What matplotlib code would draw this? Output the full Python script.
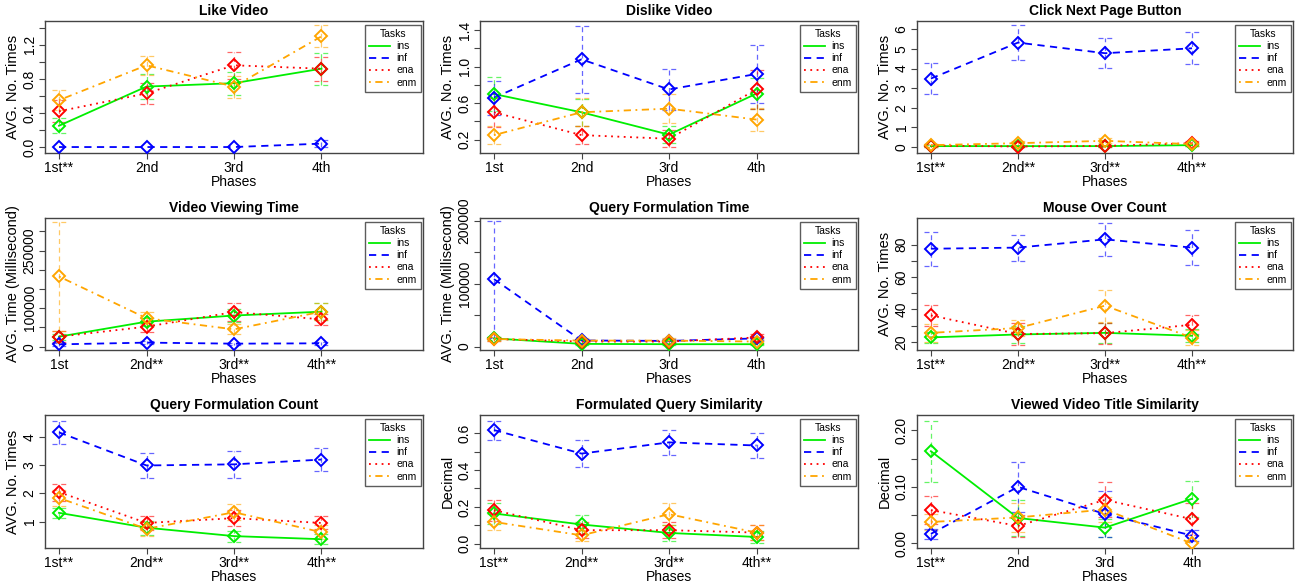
import matplotlib
matplotlib.use("Agg")
import matplotlib.pyplot as plt
import numpy as np

plt.rcParams['font.family'] = ['Liberation Sans', 'DejaVu Sans']

# ---------------- data ----------------
tasks = ["ins", "inf", "ena", "enm"]
task_colors = ["#00ee00", "#0000ff", "#ff0000", "#ffa500"]
task_styles = ["-", (0, (4, 3)), (0, (1, 2.5)), (0, (1, 2.5, 4, 2.5))]
phases = [1, 2, 3, 4]

titles = ["Like Video", "Dislike Video", "Click Next Page Button",
          "Video Viewing Time", "Query Formulation Time", "Mouse Over Count",
          "Query Formulation Count", "Formulated Query Similarity",
          "Viewed Video Title Similarity"]
ylabels = ["AVG. No. Times", "AVG. No. Times", "AVG. No. Times",
           "AVG. Time (Millisecond)", "AVG. Time (Millisecond)", "AVG. No. Times",
           "AVG. No. Times", "Decimal", "Decimal"]
xticklabels = [["1st**", "2nd", "3rd", "4th"],
               ["1st", "2nd", "3rd", "4th"],
               ["1st**", "2nd**", "3rd**", "4th**"],
               ["1st", "2nd**", "3rd**", "4th**"],
               ["1st", "2nd", "3rd", "4th"],
               ["1st**", "2nd**", "3rd**", "4th**"],
               ["1st**", "2nd**", "3rd**", "4th**"],
               ["1st**", "2nd**", "3rd**", "4th**"],
               ["1st**", "2nd", "3rd", "4th"]]

# means and error half-widths, order: ins, inf, ena, enm
like_mean = [[0.25, 0.71, 0.75, 0.92], [0.0, 0.0, 0.0, 0.04],
             [0.42, 0.63, 0.96, 0.92], [0.55, 0.96, 0.71, 1.30]]
like_err = [[0.09, 0.15, 0.135, 0.19], [0.0, 0.0, 0.0, 0.04],
            [0.13, 0.125, 0.16, 0.14], [0.12, 0.11, 0.13, 0.13]]

dislike_mean = [[0.70, 0.50, 0.255, 0.705], [0.66, 1.08, 0.75, 0.92],
                [0.50, 0.25, 0.21, 0.75], [0.25, 0.50, 0.54, 0.42]]
dislike_err = [[0.185, 0.15, 0.095, 0.17], [0.185, 0.37, 0.225, 0.32],
               [0.16, 0.10, 0.095, 0.21], [0.10, 0.155, 0.16, 0.13]]

click_mean = [[0.05, 0.05, 0.05, 0.10], [3.49, 5.32, 4.78, 5.03],
              [0.08, 0.03, 0.06, 0.20], [0.10, 0.20, 0.32, 0.15]]
click_err = [[0.05, 0.04, 0.04, 0.05], [0.79, 0.89, 0.75, 0.815],
             [0.06, 0.03, 0.05, 0.12], [0.07, 0.10, 0.12, 0.08]]

viewtime_mean = [[26000, 65000, 81000, 91000], [6000, 10500, 7800, 8700],
                 [26000, 52000, 90000, 71000], [182600, 74000, 45000, 91000]]
viewtime_err = [[8000, 10000, 16000, 22000], [3000, 4000, 3000, 3500],
                [14000, 14000, 23000, 15000], [142000, 15500, 13000, 22000]]

qtime_mean = [[13000, 4300, 3800, 3800], [107000, 9700, 9000, 13000],
              [12000, 8000, 8000, 14500], [12000, 9500, 9500, 8000]]
qtime_err = [[2000, 1500, 1500, 1500], [93000, 2500, 2500, 3000],
             [3000, 3000, 3000, 5000], [3000, 4000, 4500, 4000]]

mouse_mean = [[22.7, 24.5, 25.5, 23.7], [77.5, 78.2, 83.3, 78.2],
              [36.3, 24.8, 25.3, 30.5], [25.5, 28.5, 42.3, 22.5]]
mouse_err = [[3.5, 5.5, 6.0, 4.0], [10.5, 8.0, 10.0, 10.6],
             [6.5, 6.5, 6.5, 6.0], [5.5, 5.0, 9.8, 4.8]]

qcount_mean = [[1.31, 0.78, 0.48, 0.37], [4.18, 3.00, 3.04, 3.21],
               [2.05, 0.95, 1.12, 0.95], [1.84, 0.74, 1.33, 0.62]]
qcount_err = [[0.17, 0.25, 0.20, 0.18], [0.42, 0.46, 0.48, 0.42],
              [0.30, 0.25, 0.29, 0.23], [0.30, 0.24, 0.29, 0.25]]

qsim_mean = [[0.164, 0.104, 0.058, 0.036], [0.618, 0.490, 0.551, 0.534],
             [0.182, 0.073, 0.073, 0.060], [0.118, 0.045, 0.160, 0.060]]
qsim_err = [[0.057, 0.052, 0.042, 0.034], [0.052, 0.072, 0.067, 0.066],
            [0.058, 0.045, 0.043, 0.041], [0.044, 0.031, 0.059, 0.041]]

tsim_mean = [[0.163, 0.045, 0.028, 0.079], [0.017, 0.100, 0.052, 0.014],
             [0.059, 0.031, 0.077, 0.043], [0.038, 0.046, 0.060, 0.000]]
tsim_err = [[0.054, 0.032, 0.016, 0.032], [0.009, 0.044, 0.041, 0.009],
            [0.024, 0.020, 0.031, 0.028], [0.014, 0.026, 0.022, 0.0]]

all_means = [like_mean, dislike_mean, click_mean, viewtime_mean, qtime_mean,
             mouse_mean, qcount_mean, qsim_mean, tsim_mean]
all_errs = [like_err, dislike_err, click_err, viewtime_err, qtime_err,
            mouse_err, qcount_err, qsim_err, tsim_err]

# y axis ticks (all tick positions) and labels
ytick_pos = [np.arange(0, 1.41, 0.2), np.arange(0.2, 1.41, 0.2), np.arange(0, 6.1, 1),
             np.arange(0, 300001, 50000), np.arange(0, 200001, 50000), np.arange(20, 81, 10),
             np.arange(1, 4.1, 1), np.arange(0, 0.61, 0.1), np.arange(0, 0.201, 0.05)]
ytick_lab = [["0.0", "", "0.4", "", "0.8", "", "1.2", ""],
             ["0.2", "", "0.6", "", "1.0", "", "1.4"],
             ["0", "1", "2", "3", "4", "5", "6"],
             ["0", "", "100000", "", "", "250000", ""],
             ["0", "", "100000", "", "200000"],
             ["20", "", "40", "", "60", "", "80"],
             ["1", "2", "3", "4"],
             ["0.0", "", "0.2", "", "0.4", "", "0.6"],
             ["0.00", "", "0.10", "", "0.20"]]
ylims = [(-0.07, 1.48), (0.054, 1.50), (-0.3, 6.42),
         (-8700, 334800), (-5400, 204000), (14.9, 96.5),
         (0.056, 4.80), (-0.024, 0.70), (-0.008, 0.227)]

# ---------------- layout ----------------
W, H = 1300, 587
fig = plt.figure(figsize=(W / 100, H / 100), dpi=100)
cols = [(45, 423), (480, 858), (917, 1293)]
rows = [(21, 153), (218, 350), (415, 548)]

frame_col = "#444444"
for i in range(9):
    r, c = divmod(i, 3)
    x0, x1 = cols[c]
    y0, y1 = rows[r]
    ax = fig.add_axes([x0 / W, 1 - y1 / H, (x1 - x0) / W, (y1 - y0) / H])
    means = all_means[i]
    errs = all_errs[i]
    for k in range(4):
        m = np.array(means[k], dtype=float)
        e = np.array(errs[k], dtype=float)
        col = task_colors[k]
        xs = np.array(phases, dtype=float)
        has = e > 0
        ax.vlines(xs[has], (m - e)[has], (m + e)[has], colors=col,
                  linestyles=(0, (4, 3)), linewidth=0.9, alpha=0.6, zorder=2)
        for lv in (m - e, m + e):
            ax.hlines(lv[has], xs[has] - 0.08, xs[has] + 0.08, colors=col,
                      linestyles=(0, (4, 3)), linewidth=0.9, alpha=0.6, zorder=2)
        ax.plot(xs, m, color=col, linestyle=task_styles[k], linewidth=1.3,
                zorder=3, label=tasks[k])
        ax.plot(xs, m, linestyle="none", marker="D", markersize=5.8,
                markerfacecolor="none", markeredgecolor=col, markeredgewidth=1.4,
                zorder=4)
    ax.set_xlim(0.84, 5.16)
    ax.set_ylim(*ylims[i])
    ax.set_xticks(phases)
    ax.set_xticklabels(xticklabels[i], fontsize=10)
    ax.set_yticks(ytick_pos[i])
    ax.set_yticklabels(ytick_lab[i], fontsize=10, rotation=90, va="center")
    ax.tick_params(axis="both", direction="out", length=4, width=0.8,
                   color=frame_col, pad=2)
    for s in ax.spines.values():
        s.set_color(frame_col)
        s.set_linewidth(1.0)
    ax.set_title(titles[i], fontsize=10, fontweight="bold", pad=4)
    ax.set_xlabel("Phases", fontsize=10, labelpad=0)
    ax.set_ylabel(ylabels[i], fontsize=10.5, labelpad=2)
    leg = ax.legend(title="Tasks", loc="upper right", bbox_to_anchor=(1.0, 0.985),
                    fontsize=7.5, title_fontsize=7.5,
                    frameon=True, fancybox=False, edgecolor="#333333",
                    handlelength=2.0, borderaxespad=0.15, labelspacing=0.2,
                    borderpad=0.45, handletextpad=0.6)
    leg.get_frame().set_linewidth(1.0)

fig.savefig("out.png", dpi=100)
